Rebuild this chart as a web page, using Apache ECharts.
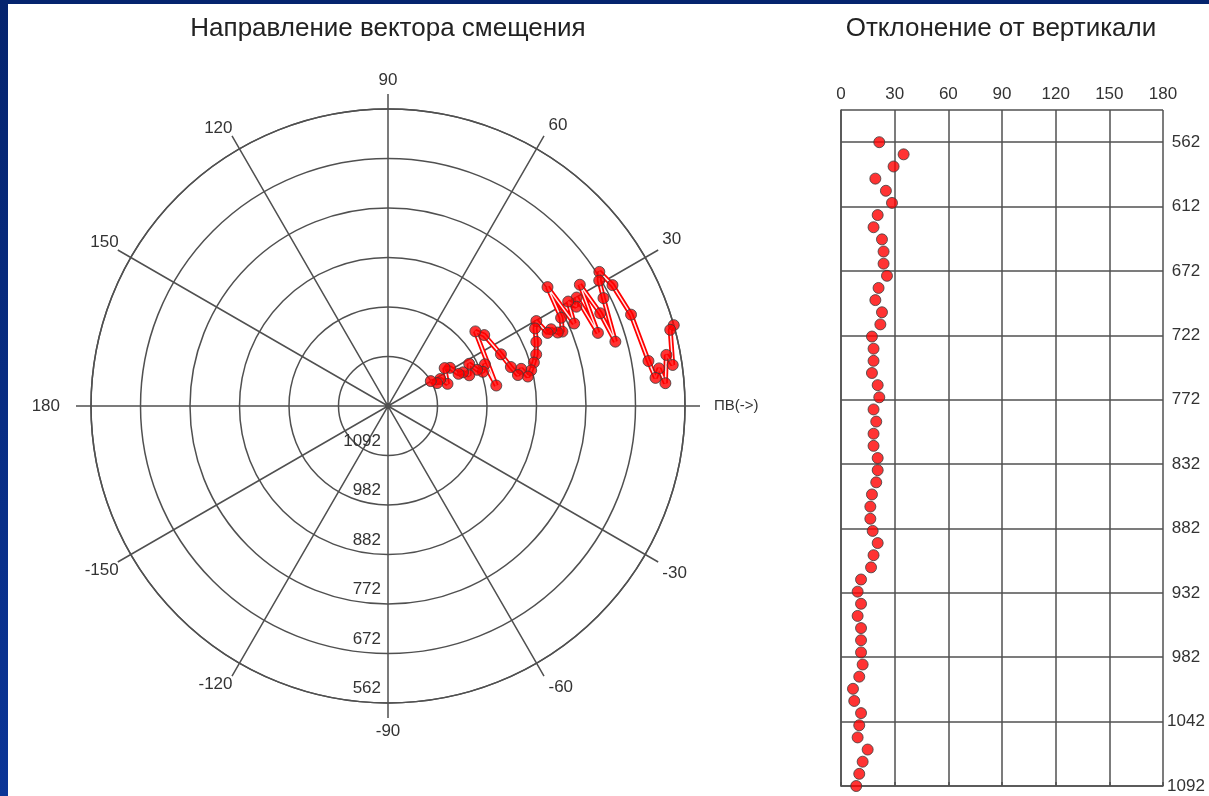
<!DOCTYPE html>
<html lang="ru">
<head>
<meta charset="utf-8">
<title>Инклинометрия</title>
<script src="https://cdn.jsdelivr.net/npm/echarts@6.0.0/dist/echarts.min.js"></script>
<style>
  html, body { margin: 0; padding: 0; }
  body { background: linear-gradient(180deg, #05246e 0%, #0b3597 100%); }
  #chart { width: 1209px; height: 796px; }
</style>
</head>
<body>
<div id="chart"></div>
<script>
// Глубины точек замера, м
const depths = [
  562, 572, 582, 592, 602, 612, 622, 632, 642, 652,
  662, 672, 682, 692, 702, 712, 722, 732, 742, 752,
  762, 772, 782, 792, 802, 812, 822, 832, 842, 852,
  862, 872, 882, 892, 902, 912, 922, 932, 942, 952,
  962, 972, 982, 992, 1002, 1012, 1022, 1032, 1042, 1052,
  1062, 1072, 1082, 1092
];

// Направление вектора смещения, градусы (0 = ПВ, против часовой)
const azimuths = [
  15.8, 15.1, 8.2, 10.4, 4.7, 7.9, 6.0, 9.8, 20.6, 28.3,
  32.4, 30.7, 26.6, 15.8, 23.6, 32.3, 19.2, 29.9, 27.8, 30.1,
  23.9, 36.7, 27.0, 23.1, 23.4, 25.2, 24.6, 29.8, 27.8, 23.4,
  19.2, 16.6, 14.0, 11.9, 15.6, 13.4, 17.6, 24.6, 36.4, 40.5,
  10.7, 23.3, 19.8, 22.1, 27.5, 20.7, 24.2, 24.5, 31.6, 33.8,
  20.4, 27.3, 25.0, 30.2
];

// Отклонение от вертикали, градусы
const inclinations = [
  21.4, 35.0, 29.4, 19.2, 25.1, 28.5, 20.5, 18.2, 22.9, 23.8,
  23.8, 25.7, 21.0, 19.2, 22.9, 22.0, 17.3, 18.2, 18.2, 17.3,
  20.5, 21.4, 18.2, 19.7, 18.2, 18.2, 20.5, 20.5, 19.7, 17.3,
  16.4, 16.4, 17.7, 20.5, 18.2, 16.8, 11.2, 9.3, 11.2, 9.3,
  11.2, 11.2, 11.2, 12.1, 10.2, 6.7, 7.4, 11.2, 10.2, 9.3,
  14.9, 12.1, 10.2, 8.5
];

// подписи колец полярной диаграммы (от центра наружу)
const ringLabels = ['1092', '982', '882', '772', '672', '562'];
// подписи глубин справа (сверху вниз)
const depthLabels = ['562', '612', '672', '722', '772', '832', '882', '932', '982', '1042', '1092'];

const FONT = '"Liberation Sans", Arial, sans-serif';
const TOP_DEPTH = depths[0];
const BOTTOM_DEPTH = depths[depths.length - 1];
const N_ROWS = depthLabels.length - 1;
// шаг сетки в метрах
const ROW_STEP = (BOTTOM_DEPTH - TOP_DEPTH) / N_ROWS;
const RING_STEP = (BOTTOM_DEPTH - TOP_DEPTH) / (ringLabels.length - 1);

// глубина -> позиция на оси: 0 = нижняя линия (1092), вверх растёт
const toRow = d => (BOTTOM_DEPTH - d) / ROW_STEP;
// глубина -> номер кольца (1092 = первое кольцо)
const toRing = d => 1 + (BOTTOM_DEPTH - d) / RING_STEP;

const polarData = depths.map((d, i) => [toRing(d), azimuths[i]]);
const inclData = depths.map((d, i) => [inclinations[i], toRow(d)]);

const gridLine = { color: '#505050', width: 1.5 };
const labelText = { fontFamily: FONT, fontSize: 17, color: '#333' };
const redDot = { color: '#ff0000', borderColor: '#3c3c3c', borderWidth: 1 };

// стили подписей угловой оси (сдвиги чтобы подписи легли как на оригинале)
const rt = (pad, size) => ({ fontFamily: FONT, fontSize: size || 17, color: '#333', padding: pad });
const angleRich = {
  top: rt([0, 0, 6, 0]),
  bot: rt([6, 0, 0, 0]),
  ru: rt([0, 0, 3, 5]),
  rd: rt([3, 0, 0, 5]),
  e: rt([0, 0, 0, 15], 15),
  w: rt([0, 17, 0, 0])
};

function angleLabel(v) {
  if (v === 270) return '';
  if (v === 0) return '{e|ПВ(->)}';
  if (v === 180) return '{w|180}';
  if (v === 90) return '{top|90}';
  if (v === -90) return '{bot|-90}';
  if (v === 30 || v === 60) return '{ru|' + v + '}';
  if (v === -30 || v === -60) return '{rd|' + v + '}';
  return String(v > 180 ? v - 360 : v);
}

const chart = echarts.init(document.getElementById('chart'));
const option = {
  backgroundColor: 'transparent',
  animation: false,
  graphic: [{
    type: 'rect', z: -10, silent: true,
    shape: { x: 8, y: 4, width: 1201, height: 792 },
    style: { fill: '#ffffff' }
  }],
  title: [
    {
      text: 'Направление вектора смещения', left: 388, top: 16, textAlign: 'center', padding: 0,
      textStyle: { fontFamily: FONT, fontSize: 26, fontWeight: 'normal', color: '#222' }
    },
    {
      text: 'Отклонение от вертикали', left: 1001, top: 16, textAlign: 'center', padding: 0,
      textStyle: { fontFamily: FONT, fontSize: 26, fontWeight: 'normal', color: '#222' }
    }
  ],
  polar: { center: [388, 406], radius: 297 },
  angleAxis: {
    type: 'value', min: -90, max: 270, interval: 30,
    startAngle: 270, clockwise: false,
    axisLine: { show: true, lineStyle: gridLine },
    axisTick: { show: true, length: 15, lineStyle: gridLine },
    splitLine: { show: true, lineStyle: gridLine },
    axisLabel: Object.assign({}, labelText, {
      margin: 14,
      formatter: angleLabel,
      rich: angleRich
    })
  },
  radiusAxis: {
    type: 'value', min: 0, max: 6, interval: 1,
    axisLine: { show: false },
    axisTick: { show: false },
    splitLine: { show: true, lineStyle: gridLine },
    axisLabel: Object.assign({}, labelText, {
      margin: -7, align: 'right', verticalAlign: 'bottom', padding: [0, 0, 6, 0],
      formatter: v => ringLabels[v - 1] || ''
    })
  },
  grid: { left: 841, top: 110, width: 322, height: 676 },
  xAxis: {
    type: 'value', position: 'top', min: 0, max: 180, interval: 30,
    axisLine: { show: true, lineStyle: gridLine },
    axisTick: { show: true, length: 4, lineStyle: gridLine },
    splitLine: { show: true, lineStyle: gridLine },
    axisLabel: Object.assign({}, labelText, { margin: 7 })
  },
  yAxis: {
    type: 'value', position: 'right', min: 0, max: N_ROWS + 0.5, interval: 1,
    axisLine: { show: true, lineStyle: gridLine },
    axisTick: { show: false },
    splitLine: { show: true, lineStyle: gridLine },
    axisLabel: Object.assign({}, labelText, {
      margin: 23, align: 'center',
      formatter: v => Number.isInteger(v) ? (depthLabels[N_ROWS - v] || '') : ''
    })
  },
  series: [
    {
      name: 'траектория', type: 'line', coordinateSystem: 'polar', data: polarData,
      symbol: 'none', z: 2, lineStyle: { color: '#ff0000', width: 5 }
    },
    {
      name: 'траектория-внутр', type: 'line', coordinateSystem: 'polar', data: polarData,
      symbol: 'none', z: 3, lineStyle: { color: '#ffe8e8', width: 1.5 }
    },
    {
      name: 'азимут', type: 'scatter', coordinateSystem: 'polar', data: polarData,
      symbolSize: 11, z: 4, itemStyle: redDot
    },
    {
      name: 'зенит', type: 'scatter', data: inclData,
      symbolSize: 11, z: 4, itemStyle: redDot
    }
  ]
};
chart.setOption(option);
window.addEventListener('resize', () => chart.resize());
</script>
</body>
</html>
